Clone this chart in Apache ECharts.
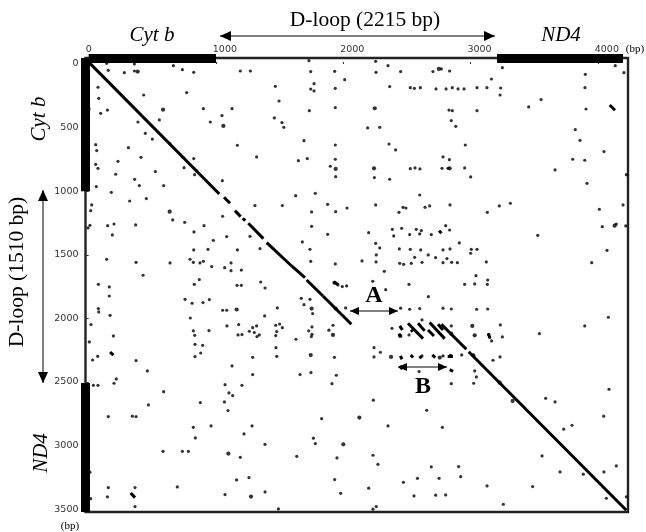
<!DOCTYPE html>
<html><head><meta charset="utf-8">
<script src="https://cdn.jsdelivr.net/npm/echarts@6/dist/echarts.min.js"></script>
<style>html,body{margin:0;padding:0;background:#fff}#c{width:646px;height:532px}</style></head>
<body><div id="c"></div>
<script>
const xTicks=[0,1000,2000,3000,4000];
const yTicks=[0,500,1000,1500,2000,2500,3000,3500];
// gene spans in bp along each sequence
const cytbX=[0,1000], nd4X=[3207,4197];
const cytbY=[-47,1000], nd4Y=[2508,3522];
// main diagonal matches [x1,y1,x2,y2]
const diagonal=[[10,-5,1026,1022],[1063,1048,1110,1095],[1149,1153,1194,1200],[1210,1213,1230,1231],[1254,1252,1372,1373],[1398,1404,1594,1588],[1594,1588,1699,1679],[1712,1698,1840,1824],[1840,1824,2063,2046],[2770,2046,2966,2243],[2985,2262,4223,3508]];
// short repeat strokes [x1,y1,x2,y2]
const strokes=[[2508,2038,2626,2159],[2587,2038,2639,2098],[2678,2033,2796,2159],[2744,2046,2783,2091],[2665,2091,2712,2138],[2443,2059,2464,2091],[2448,2295,2461,2321],[2529,2287,2548,2308],[2699,2287,2722,2308],[2836,2403,2862,2416],[330,3372,364,3409],[4092,322,4134,364],[2752,1310,2770,1331],[2532,2090,2545,2105],[168,2264,194,2290],[2437,2120,2448,2145],[3138,2118,3150,2150],[2820,2295,2860,2295],[2600,2295,2612,2316],[2445,2375,2465,2395],[1925,1712,1960,1735]];
const blobs=[[1940,1923],[1930,1720],[2456,2387],[2843,2295],[3228,2505],[3032,2133],[3021,2290],[2848,2120],[2448,2138],[1751,1923],[1744,2288],[2835,820],[2241,820],[1162,1930],[1940,825],[636,1161],[3330,2649],[2000,2990],[2126,2780],[1097,3063],[1275,3401],[4131,1271],[1058,487],[385,60],[584,359],[2247,348],[2750,39],[3013,2059],[2757,2308],[2375,2303],[1919,2130]];
const dotsA=[[141,-5],[359,0],[154,50],[280,68],[359,55],[665,13],[736,45],[825,66],[1191,55],[1270,55],[1730,-26],[1744,60],[1770,155],[1744,197],[1770,212],[1466,176],[1495,291],[770,225],[432,244],[73,183],[79,270],[3,354],[147,362],[94,388],[901,351],[1126,351],[1733,367],[1047,406],[555,440],[387,456],[955,456],[1458,424],[1518,461],[1532,498],[445,545],[500,590],[636,624],[1168,639],[1691,603],[55,634],[63,681],[312,658],[411,734],[741,734],[825,744],[1319,731],[1717,744],[1647,760],[230,765],[55,789],[73,820],[749,815],[524,846],[848,841],[832,870],[212,867],[361,907],[1050,917],[398,956],[589,956],[60,964],[178,1009],[1626,1035],[1780,1017],[453,1058],[322,1077],[1521,1113],[1306,1113],[24,1108],[16,1153],[1751,1163],[1052,1197],[660,1226],[754,1245],[199,1258],[149,1271],[369,1265],[10,1268],[906,1271],[1751,1276],[-5,1289],[827,1320],[186,1344],[1084,1357],[1267,1355],[979,1386],[1678,1399],[1346,1451],[1168,1462],[825,1462],[937,1457],[1738,1457],[796,1535],[141,1535],[372,1559],[639,1564],[822,1559],[874,1564],[901,1551],[1118,1564],[1744,1551]];
const dotsB=[[2254,-21],[2351,13],[2257,66],[2450,60],[1932,58],[2011,123],[2704,60],[2770,39],[2835,55],[3249,29],[3163,118],[3901,81],[4136,13],[4204,68],[1937,191],[2364,178],[2526,186],[2558,191],[2605,186],[2728,196],[2807,196],[2856,186],[2901,196],[2948,196],[3050,186],[3128,186],[3236,189],[3231,244],[3898,186],[3553,280],[3456,338],[1937,343],[2830,362],[2856,367],[3050,367],[3906,354],[2191,503],[2286,498],[2848,445],[2883,490],[3822,516],[1937,637],[2359,629],[2411,676],[2958,637],[3859,600],[4047,689],[2783,731],[2833,752],[3802,749],[3896,757],[1937,749],[1898,804],[2526,823],[2563,817],[2602,825],[2775,820],[2822,820],[2953,817],[3663,833],[1940,886],[2244,893],[2364,906],[3000,888],[4223,870],[3914,938],[2600,1030],[1877,1103],[2254,1108],[2029,1132],[1940,1161],[2469,1127],[2492,1132],[2437,1166],[2642,1127],[2678,1116],[2838,1108],[3225,1116],[3312,1095],[3131,1166],[4011,1142],[4197,1108],[4034,1279],[4144,1258],[4218,1273],[1877,1339],[2199,1326],[2385,1300],[2458,1292],[2396,1352],[2521,1341],[2573,1300],[2600,1336],[2613,1310],[2691,1341],[2804,1271],[2835,1305],[3527,1347],[2254,1410],[2286,1446],[2259,1501],[2440,1454],[2526,1457],[2608,1462],[2783,1462],[2838,1454],[2911,1407],[3005,1457],[3050,1457],[3000,1488],[4071,1465],[2147,1548],[1937,1572],[2257,1556],[2443,1567],[2474,1575],[2534,1567],[2560,1520],[2618,1559],[2667,1501],[2725,1522],[2783,1562],[2814,1530],[2851,1559],[2896,1562],[3123,1556],[3951,1562]];
const dotsC=[[427,1661],[966,1593],[1068,1601],[1118,1625],[1199,1620],[76,1732],[162,1753],[162,1824],[830,1732],[869,1695],[1165,1740],[1199,1740],[1351,1714],[1385,1761],[757,1850],[812,1881],[898,1876],[948,1852],[1670,1842],[1738,1850],[1691,1892],[76,1923],[79,1949],[1482,1918],[1052,1936],[1084,1936],[168,1976],[1382,1981],[1759,1962],[798,1997],[18,2049],[1086,2059],[1178,2049],[822,2098],[945,2096],[832,2133],[1262,2101],[1288,2073],[1319,2059],[1301,2111],[1322,2143],[1340,2130],[1173,2130],[1204,2127],[1469,2054],[1500,2044],[1521,2073],[1477,2104],[1469,2135],[1754,2067],[1728,2098],[1754,2125],[1749,2143],[1628,2164],[194,2138],[5,2185],[835,2204],[895,2212],[1471,2230],[880,2272],[835,2300],[71,2298],[31,2327],[372,2332],[1288,2306],[1477,2298],[1126,2374],[461,2413],[1288,2442],[1660,2442],[1746,2426],[217,2476],[199,2510],[37,2526],[73,2526],[1071,2521],[1204,2526],[589,2576],[1102,2586],[1131,2607],[877,2662],[1066,2657],[469,2680],[1094,2725],[154,2772],[343,2769],[372,2772],[1830,2788],[961,2845],[1283,2845],[822,2856],[1220,2908],[838,2940],[1765,2942],[1780,2984],[1385,2990],[584,3045],[736,3045],[783,3045],[1191,3092],[1634,3084],[10,3209],[1259,3251],[1162,3270],[154,3330],[364,3330],[696,3325],[1385,3364],[1071,3385],[147,3403],[16,3417],[364,3479],[1490,3498]];
const dotsD=[[2322,1630],[2231,1708],[1958,1737],[1992,1750],[2026,1745],[2516,1732],[2333,1774],[2668,1829],[2953,1732],[3032,1729],[3042,1664],[3134,1698],[3131,1732],[2018,1918],[2450,1920],[2521,1928],[2600,1923],[2783,1920],[2848,1926],[3047,1928],[3134,1926],[4082,1991],[3896,2059],[3540,2120],[1919,2054],[1887,2093],[2382,2078],[2516,2130],[3142,2125],[3150,2151],[3165,2177],[3233,2051],[3249,2146],[2848,2059],[2618,2012],[2618,2295],[2783,2295],[2930,2287],[3176,2329],[3231,2303],[2241,2230],[2291,2266],[2241,2303],[1930,2306],[1945,2447],[1911,2513],[2595,2418],[2848,2513],[3032,2413],[3045,2460],[3024,2510],[3589,2628],[3663,2657],[4087,2557],[2236,2643],[2655,2722],[4045,2769],[2351,2845],[2778,2856],[3731,2871],[3796,2840],[2233,3076],[1950,3097],[3561,3081],[2272,3147],[2691,3167],[2906,3165],[4144,3160],[3702,3207],[3885,3225],[4047,3207],[1932,3267],[2472,3288],[2582,3257],[2752,3257],[2922,3244],[2199,3335],[3129,3317],[3487,3322],[1979,3375],[2555,3396],[2725,3390],[2804,3388],[4066,3414],[4223,3403],[3257,3461],[2233,3500],[2259,3479]];

const serif='"Liberation Serif","Times New Roman",serif';
const chart=echarts.init(document.getElementById('c'),null,{renderer:'canvas'});
function seg(a){return a.map(s=>({coords:[[s[0],s[1]],[s[2],s[3]]]}));}
function txt(t,x,y,size,o){return {type:'text',x:x,y:y,rotation:o&&o.rot?Math.PI/2:0,silent:true,
  style:{text:t,x:0,y:0,fill:'#000',font:(o&&o.style?o.style+' ':'')+size+'px '+serif,textAlign:'center',textVerticalAlign:'middle'}};}
function arrow(x1,y1,x2,y2,hl,hw,both,lw){
  const ang=Math.atan2(y2-y1,x2-x1),c=Math.cos(ang),s=Math.sin(ang);
  const head=(x,y,d)=>({type:'polygon',silent:true,shape:{points:[[x,y],[x-d*c*hl-s*hw,y-d*s*hl+c*hw],[x-d*c*hl+s*hw,y-d*s*hl-c*hw]]},style:{fill:'#000'}});
  const out=[{type:'line',silent:true,shape:{x1:x1,y1:y1,x2:x2,y2:y2},style:{stroke:'#000',lineWidth:lw||1}},head(x2,y2,1)];
  if(both)out.push(head(x1,y1,-1));
  return out;
}
const tickLabel={fontFamily:'"DejaVu Sans",Verdana,sans-serif',fontSize:9.5,color:'#333'};
chart.setOption({
  animation:false,
  grid:{left:85.5,top:58,width:542.5,height:454,show:true,borderColor:'#222',borderWidth:2.4,backgroundColor:'#fff'},
  xAxis:{type:'value',position:'top',min:-25,max:4236,
    axisLine:{show:false},splitLine:{show:false},
    axisTick:{show:true,length:2,inside:false,customValues:xTicks,lineStyle:{color:'#333'}},
    axisLabel:Object.assign({show:true,margin:3,customValues:xTicks.map(v=>v+(v?70:0)),showMinLabel:true,showMaxLabel:true,
      formatter:v=>String(v?v-70:0)},tickLabel)},
  yAxis:{type:'value',inverse:true,min:-47,max:3522,
    axisLine:{show:false},splitLine:{show:false},
    axisTick:{show:true,length:3,customValues:yTicks,lineStyle:{color:'#333'}},
    axisLabel:Object.assign({show:true,margin:7,customValues:yTicks,formatter:v=>String(v)},tickLabel)},
  series:[
    {type:'lines',coordinateSystem:'cartesian2d',clip:false,silent:true,lineStyle:{color:'#000',width:3,opacity:1},data:seg(diagonal)},
    {type:'lines',coordinateSystem:'cartesian2d',clip:false,silent:true,lineStyle:{color:'#000',width:3,opacity:1},data:seg(strokes)},
    {type:'lines',coordinateSystem:'cartesian2d',clip:false,silent:true,z:5,lineStyle:{color:'#000',width:9,opacity:1},
      data:[{coords:[[cytbX[0],-47],[cytbX[1],-47]]},{coords:[[nd4X[0],-47],[nd4X[1],-47]]},{coords:[[-25,cytbY[0]],[-25,cytbY[1]]]},{coords:[[-25,nd4Y[0]],[-25,nd4Y[1]]]}]},
    {type:'scatter',silent:true,clip:false,symbolSize:3.2,itemStyle:{color:'#000'},data:[].concat(dotsA,dotsB,dotsC,dotsD)},
    {type:'scatter',silent:true,clip:false,symbolSize:4.2,itemStyle:{color:'#000'},data:blobs}
  ],
  graphic:{elements:[].concat(
    [txt('Cyt b',152,35,21,{style:'italic'}),
     txt('D-loop (2215 bp)',365,20,21.5),
     txt('ND4',561,35,21,{style:'italic'}),
     txt('(bp)',635,49,11),
     txt('(bp)',70,526,11),
     txt('Cyt b',39,119,21,{style:'italic',rot:true}),
     txt('D-loop (1510 bp)',17,272,21.5,{rot:true}),
     txt('ND4',41,453,21,{style:'italic',rot:true}),
     txt('A',374,296,24,{style:'bold'}),
     txt('B',423,387,24,{style:'bold'})],
    arrow(220,36,495,36,11,5,true),
    arrow(43,190,43,383,11,5,true),
    arrow(350,311,398,311,9,4,true),
    arrow(398,367,447,367,9,4,true)
  )}
});
</script></body></html>
